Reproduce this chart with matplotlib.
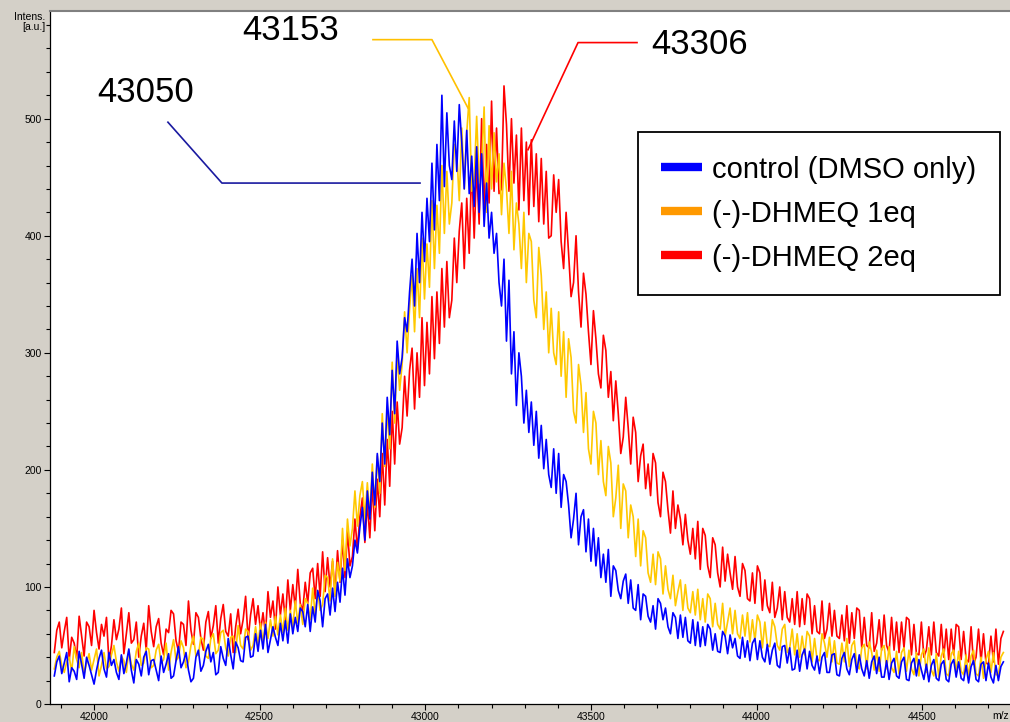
import numpy as np
import matplotlib.pyplot as plt
from matplotlib.lines import Line2D
from matplotlib.ticker import MultipleLocator

plt.rcParams['font.family'] = ['Liberation Sans', 'DejaVu Sans']

# mass axis of the spectra (Da), one sample every 7.5 Da
mass = np.arange(41880, 44746, 7.5)

control = [
    24, 36, 41, 26, 35, 44, 19, 31, 28, 21, 45, 34, 22, 40, 33, 25, 17, 29, 39, 46,
    30, 23, 44, 33, 38, 27, 21, 42, 26, 35, 47, 29, 18, 38, 34, 24, 40, 45, 25, 37,
    38, 29, 20, 41, 27, 34, 43, 22, 24, 37, 49, 31, 36, 44, 29, 19, 22, 40, 46, 28,
    33, 45, 51, 36, 44, 25, 27, 49, 39, 33, 56, 42, 30, 53, 48, 37, 36, 57, 58, 40,
    41, 60, 45, 63, 47, 68, 44, 55, 66, 57, 50, 69, 54, 71, 52, 77, 60, 74, 62, 82,
    79, 66, 85, 62, 83, 70, 97, 88, 66, 90, 94, 76, 99, 79, 104, 87, 116, 93, 124, 108,
    118, 140, 129, 151, 168, 140, 182, 158, 198, 170, 214, 190, 240, 205, 262, 230, 285, 248, 310, 282,
    296, 330, 318, 352, 380, 340, 402, 360, 420, 378, 432, 395, 462, 405, 478, 430, 520, 442, 505, 460,
    448, 498, 455, 512, 480, 440, 490, 436, 468, 425, 476, 420, 470, 408, 445, 398, 420, 385, 402, 360,
    340, 380, 310, 362, 282, 318, 255, 300, 280, 240, 268, 232, 258, 221, 250, 210, 238, 201, 226, 196,
    185, 218, 180, 214, 168, 196, 190, 170, 142, 158, 180, 136, 160, 166, 130, 158, 122, 150, 118, 142,
    108, 128, 104, 132, 92, 118, 114, 97, 90, 105, 111, 86, 106, 82, 80, 102, 72, 94, 92, 75,
    70, 84, 64, 90, 86, 72, 82, 66, 60, 78, 74, 56, 76, 57, 74, 54, 52, 72, 50, 70,
    49, 66, 50, 68, 64, 46, 60, 45, 44, 62, 58, 43, 59, 48, 56, 41, 39, 57, 40, 54,
    37, 52, 56, 38, 54, 40, 36, 51, 34, 46, 52, 33, 31, 49, 50, 35, 48, 29, 30, 46,
    28, 42, 47, 30, 45, 33, 29, 41, 26, 40, 44, 27, 27, 42, 43, 25, 24, 39, 44, 30,
    25, 38, 43, 27, 42, 30, 24, 37, 22, 36, 41, 26, 40, 23, 23, 37, 21, 35, 39, 24,
    22, 36, 40, 21, 20, 35, 39, 24, 38, 29, 21, 34, 19, 33, 38, 22, 20, 34, 37, 21,
    19, 34, 38, 23, 36, 22, 20, 33, 18, 32, 37, 21, 19, 34, 36, 20, 35, 23, 18, 33,
    20, 32, 36]

dhmeq_1eq = [
    30, 40, 45, 33, 27, 36, 40, 28, 49, 38, 31, 44, 26, 35, 43, 29, 38, 47, 24, 33,
    44, 30, 32, 42, 50, 36, 28, 41, 37, 27, 46, 34, 29, 45, 52, 33, 35, 48, 47, 31,
    33, 46, 51, 35, 38, 52, 29, 44, 55, 37, 40, 54, 48, 31, 36, 50, 58, 41, 42, 57,
    55, 41, 39, 56, 60, 43, 46, 61, 63, 48, 41, 57, 58, 44, 67, 50, 47, 64, 62, 46,
    50, 66, 51, 69, 53, 70, 56, 72, 58, 75, 59, 76, 61, 82, 63, 80, 66, 88, 69, 85,
    68, 90, 86, 72, 99, 76, 97, 80, 85, 110, 108, 88, 124, 92, 121, 105, 150, 114, 158, 135,
    150, 182, 152, 178, 190, 158, 189, 160, 205, 168, 212, 180, 248, 203, 252, 218, 292, 240, 301, 268,
    290, 335, 300, 338, 366, 318, 372, 330, 398, 346, 393, 356, 430, 372, 426, 385, 460, 402, 455, 410,
    428, 478, 470, 430, 492, 440, 488, 518, 438, 448, 502, 445, 460, 510, 420, 494, 440, 488, 446, 470,
    418, 462, 440, 402, 455, 388, 428, 410, 372, 420, 360, 402, 395, 345, 330, 390, 366, 320, 352, 300,
    338, 300, 290, 335, 280, 318, 262, 312, 296, 250, 240, 290, 272, 232, 266, 218, 205, 250, 240, 196,
    225, 190, 178, 220, 206, 160, 176, 204, 150, 188, 182, 142, 170, 160, 126, 158, 118, 148, 142, 112,
    104, 128, 102, 130, 124, 94, 118, 98, 90, 110, 84, 96, 106, 80, 102, 82, 78, 96, 76, 98,
    72, 90, 70, 94, 90, 66, 86, 68, 64, 86, 58, 70, 82, 60, 80, 60, 56, 76, 58, 78,
    53, 72, 54, 76, 70, 48, 70, 50, 49, 72, 66, 50, 46, 64, 68, 44, 48, 64, 42, 60,
    40, 58, 42, 62, 58, 36, 56, 38, 37, 60, 52, 40, 57, 36, 54, 35, 34, 52, 36, 56,
    32, 50, 54, 33, 30, 48, 51, 30, 53, 44, 29, 46, 28, 47, 50, 30, 49, 31, 27, 45,
    26, 44, 48, 28, 46, 30, 25, 44, 24, 42, 47, 27, 48, 29, 24, 43, 23, 41, 47, 26,
    24, 43, 46, 27, 45, 28, 25, 42, 23, 41, 46, 26, 24, 40, 22, 38, 45, 27, 44, 25,
    25, 40, 44]

dhmeq_2eq = [
    44, 63, 70, 48, 62, 74, 38, 57, 52, 39, 75, 58, 41, 70, 66, 50, 80, 61, 47, 68,
    58, 74, 36, 50, 72, 55, 64, 82, 43, 60, 78, 52, 55, 70, 40, 58, 69, 46, 84, 62,
    49, 66, 73, 52, 42, 64, 61, 80, 77, 54, 45, 70, 68, 50, 88, 63, 51, 78, 74, 56,
    46, 70, 79, 56, 67, 84, 52, 73, 85, 62, 58, 77, 44, 66, 81, 60, 72, 92, 55, 76,
    90, 68, 84, 62, 78, 60, 96, 74, 88, 64, 100, 76, 94, 71, 106, 80, 102, 82, 115, 86,
    80, 104, 86, 112, 116, 90, 120, 92, 130, 96, 125, 100, 122, 94, 131, 104, 140, 108, 148, 118,
    126, 158, 132, 160, 176, 138, 172, 142, 188, 148, 192, 160, 214, 170, 226, 186, 250, 205, 258, 222,
    236, 280, 246, 285, 304, 252, 300, 262, 330, 272, 326, 282, 348, 295, 352, 308, 372, 322, 378, 330,
    345, 398, 360, 404, 428, 372, 432, 385, 462, 398, 460, 410, 500, 420, 478, 428, 515, 438, 492, 436,
    440, 528, 495, 438, 500, 445, 486, 422, 492, 430, 480, 418, 482, 425, 470, 412, 466, 410, 455, 398,
    400, 452, 420, 448, 395, 372, 420, 385, 348, 360, 400, 352, 322, 368, 350, 318, 290, 336, 312, 282,
    270, 315, 302, 262, 284, 242, 276, 248, 214, 228, 262, 236, 205, 245, 232, 190, 212, 222, 184, 205,
    178, 214, 206, 172, 160, 198, 190, 166, 146, 182, 150, 170, 158, 136, 162, 140, 128, 150, 124, 156,
    115, 150, 144, 118, 108, 142, 136, 112, 100, 134, 105, 128, 112, 98, 126, 100, 92, 120, 114, 90,
    88, 112, 86, 118, 112, 80, 106, 84, 78, 104, 74, 82, 100, 72, 96, 74, 70, 90, 68, 96,
    66, 90, 68, 94, 90, 60, 84, 62, 60, 88, 56, 64, 86, 58, 80, 58, 56, 76, 54, 84,
    52, 78, 56, 82, 80, 48, 74, 50, 48, 78, 45, 52, 72, 46, 76, 50, 44, 74, 46, 70,
    44, 70, 48, 74, 72, 42, 68, 43, 42, 70, 40, 46, 66, 42, 70, 44, 41, 68, 40, 64,
    38, 64, 42, 68, 66, 38, 62, 38, 36, 66, 34, 40, 64, 36, 60, 35, 34, 58, 36, 64,
    34, 56, 62]

labels = ['control (DMSO only)', '(-)-DHMEQ 1eq', '(-)-DHMEQ 2eq']
peak_labels = ['43050', '43153', '43306']

fig = plt.figure(figsize=(10.1, 7.22), dpi=100, facecolor='#d4d0c8')
ax = fig.add_axes([0.0495, 0.0249, 0.9505, 0.9599])
ax.set_facecolor('white')

ax.plot(mass, dhmeq_2eq, color='#ff0000', lw=1.2, zorder=2)
ax.plot(mass, dhmeq_1eq, color='#ffc800', lw=1.2, zorder=3)
ax.plot(mass, control, color='#0000ff', lw=1.2, zorder=4)

ax.set_xlim(41867, 44765)
ax.set_ylim(0, 592)

ax.xaxis.set_major_locator(MultipleLocator(500))
ax.xaxis.set_minor_locator(MultipleLocator(100))
ax.yaxis.set_major_locator(MultipleLocator(100))
ax.yaxis.set_minor_locator(MultipleLocator(20))
ax.tick_params(which='both', direction='out', labelsize=7.5, colors='black', pad=2)
ax.tick_params(which='major', length=4, width=0.8)
ax.tick_params(which='minor', length=3, width=0.8)

ax.spines['right'].set_visible(False)
ax.spines['top'].set_color('#808080')
ax.spines['top'].set_linewidth(1.5)
for s in ['left', 'bottom']:
    ax.spines[s].set_color('black')
    ax.spines[s].set_linewidth(0.9)

fig.text(0.045, 0.984, 'Intens.\n[a.u.]', ha='right', va='top', fontsize=7.5,
         linespacing=1.0)
fig.text(0.999, 0.002, 'm/z', ha='right', va='bottom', fontsize=7.5)

# peak callouts
ax.plot([42223, 42386, 42984], [497, 445, 445], color='#1a1aa0', lw=1.2, zorder=5)
ax.plot([42842, 43020, 43129], [567.5, 567.5, 509], color='#ffc000', lw=1.2, zorder=5)
ax.plot([43639, 43461, 43310], [565, 565, 473.5], color='#ff0000', lw=1.2, zorder=5)
ax.text(42157, 522, peak_labels[0], fontsize=25, ha='center', va='center')
ax.text(42592, 575, peak_labels[1], fontsize=25, ha='center', va='center')
ax.text(43829, 563, peak_labels[2], fontsize=25, ha='center', va='center')

handles = [Line2D([], [], color=c, lw=6, solid_capstyle='butt')
           for c in ['#0000ff', '#ff9900', '#ff0000']]
leg = ax.legend(handles, labels, loc='upper left', bbox_to_anchor=(0.6125, 0.825),
                borderaxespad=0, fontsize=21, fancybox=False, framealpha=1,
                edgecolor='black', handlelength=1.4, handletextpad=0.35,
                labelspacing=0.55, borderpad=0.8)
leg.get_frame().set_linewidth(1.3)

fig.savefig('out.png', dpi=100, facecolor=fig.get_facecolor())
